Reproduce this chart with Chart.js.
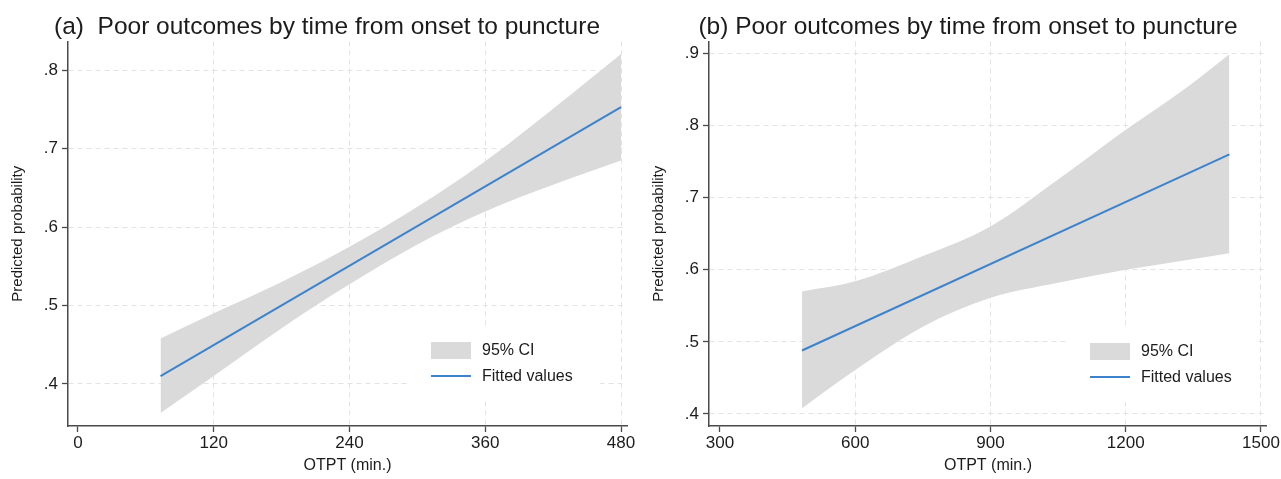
<!DOCTYPE html>
<html><head><meta charset="utf-8">
<script src="https://cdn.jsdelivr.net/npm/chart.js@4/dist/chart.umd.min.js"></script>
<style>
html,body{margin:0;padding:0;background:#fff;overflow:hidden}
#wrap{position:relative;width:1281px;height:479px;background:#fff}
.pane{position:absolute;top:0;width:640px;height:479px}
</style></head><body>
<div id="wrap">
<div class="pane" style="left:0"><canvas id="ca" width="640" height="479"></canvas></div>
<div class="pane" style="left:641px"><canvas id="cb" width="640" height="479"></canvas></div>
</div>
<script>
// ---------- Panel (a) ----------
const titleA = '(a)  Poor outcomes by time from onset to puncture';
const xTicksA = [0, 120, 240, 360, 480];
const yTicksA = [0.4, 0.5, 0.6, 0.7, 0.8];
const ciXA = [73, 120, 180, 240, 300, 360, 420, 480];
const ciUpperA = [0.458, 0.490, 0.530, 0.575, 0.626, 0.684, 0.751, 0.821];
const ciLowerA = [0.363, 0.410, 0.471, 0.527, 0.578, 0.620, 0.654, 0.685];
const fitXA = [73, 480];
const fitYA = [0.410, 0.753];

// ---------- Panel (b) ----------
const titleB = '(b) Poor outcomes by time from onset to puncture';
const xTicksB = [300, 600, 900, 1200, 1500];
const yTicksB = [0.4, 0.5, 0.6, 0.7, 0.8, 0.9];
const ciXB = [482, 600, 750, 900, 1050, 1200, 1340, 1430];
const ciUpperB = [0.570, 0.584, 0.619, 0.660, 0.725, 0.794, 0.855, 0.899];
const ciLowerB = [0.408, 0.461, 0.521, 0.561, 0.582, 0.600, 0.614, 0.623];
const fitXB = [482, 1430];
const fitYB = [0.488, 0.760];

const xTitle = 'OTPT (min.)';
const yTitle = 'Predicted probability';
const legendLabels = ['95% CI', 'Fitted values'];

const BAND = '#dadada';
const LINE = '#3d83cc';
const TEXT = '#1c1c1c';
const AXIS = '#4a4a4a';
const GRID = '#e3e3e3';

Chart.defaults.font.family = "'Liberation Sans', Arial, Helvetica, sans-serif";
Chart.defaults.color = TEXT;

const insideLegend = {
  id: 'insideLegend',
  afterDatasetsDraw(chart, args, opts) {
    const ctx = chart.ctx;
    const band = chart.data.datasets[2];
    const line = chart.data.datasets[0];
    const x = opts.x, y = opts.y;
    ctx.save();
    ctx.fillStyle = '#ffffff';
    ctx.fillRect(x - 21, y - 16, 190, 76);
    ctx.fillStyle = band.backgroundColor;
    ctx.fillRect(x, y, 40, 17);
    ctx.strokeStyle = line.borderColor;
    ctx.lineWidth = 2;
    ctx.beginPath();
    ctx.moveTo(x, y + 34);
    ctx.lineTo(x + 40, y + 34);
    ctx.stroke();
    ctx.fillStyle = TEXT;
    ctx.font = "16px 'Liberation Sans', Arial, sans-serif";
    ctx.textBaseline = 'middle';
    ctx.textAlign = 'left';
    ctx.fillText(band.label, x + 51, y + 9);
    ctx.fillText(line.label, x + 51, y + 35);
    ctx.restore();
  }
};

function pts(xs, ys) { return xs.map((v, i) => ({x: v, y: ys[i]})); }

function makeChart(id, o) {
  return new Chart(document.getElementById(id), {
    type: 'line',
    data: {
      datasets: [
        { label: legendLabels[1], data: pts(o.fitX, o.fitY), borderColor: LINE, borderWidth: 2,
          pointRadius: 0, fill: false, tension: 0 },
        { label: 'lower', data: pts(o.ciX, o.lo), borderWidth: 0, borderColor: 'rgba(0,0,0,0)',
          pointRadius: 0, fill: false, cubicInterpolationMode: 'monotone' },
        { label: legendLabels[0], data: pts(o.ciX, o.hi), borderWidth: 0, borderColor: 'rgba(0,0,0,0)',
          backgroundColor: BAND, pointRadius: 0, fill: 1, cubicInterpolationMode: 'monotone' }
      ]
    },
    plugins: [insideLegend],
    options: {
      responsive: false,
      animation: false,
      events: [],
      layout: { padding: { left: 27, right: 13, top: 0, bottom: 0 } },
      plugins: {
        legend: { display: false },
        tooltip: { enabled: false },
        title: { display: true, text: o.title, color: TEXT,
          font: { size: 24.5, weight: 'normal' }, padding: { top: 13, bottom: -1 } },
        insideLegend: o.legend
      },
      scales: {
        x: {
          type: 'linear', min: o.xMin, max: o.xMax,
          afterBuildTicks: s => { s.ticks = o.xTicks.map(v => ({value: v})); },
          afterFit: s => { s.height = 53; },
          ticks: { autoSkip: false, maxRotation: 0, padding: 1, color: TEXT,
            font: { size: 17 }, callback: v => String(v) },
          grid: { color: c => (c.tick && c.tick.value === o.xTicks[0]) ? 'rgba(0,0,0,0)' : GRID,
            lineWidth: 1, tickColor: AXIS, tickLength: 6, tickWidth: 1.3 },
          border: { color: AXIS, width: 1.5, dash: [5, 4] },
          title: { display: true, text: xTitle, color: TEXT, font: { size: 16 },
            padding: { top: 0, bottom: 4 } }
        },
        y: {
          type: 'linear', min: o.yMin, max: o.yMax,
          afterBuildTicks: s => { s.ticks = o.yTicks.map(v => ({value: v})); },
          afterFit: s => { s.width = 41; },
          ticks: { padding: 4, color: TEXT, font: { size: 17 },
            callback: v => v.toFixed(1).replace(/^0/, '') },
          grid: { color: GRID, lineWidth: 1, tickColor: AXIS, tickLength: 6, tickWidth: 1.3 },
          border: { color: AXIS, width: 1.5, dash: [5, 4] },
          title: { display: true, text: yTitle, color: TEXT, font: { size: 15 },
            padding: { top: -18, bottom: 0 } }
        }
      }
    }
  });
}

makeChart('ca', {
  title: titleA, xTicks: xTicksA, yTicks: yTicksA,
  xMin: -8.8, xMax: 485.3, yMin: 0.3463, yMax: 0.837,
  ciX: ciXA, hi: ciUpperA, lo: ciLowerA, fitX: fitXA, fitY: fitYA,
  legend: { x: 431, y: 342 }
});
makeChart('cb', {
  title: titleB, xTicks: xTicksB, yTicks: yTicksB,
  xMin: 275.6, xMax: 1513.3, yMin: 0.3833, yMax: 0.9167,
  ciX: ciXB, hi: ciUpperB, lo: ciLowerB, fitX: fitXB, fitY: fitYB,
  legend: { x: 449, y: 343 }
});
</script>
</body></html>
